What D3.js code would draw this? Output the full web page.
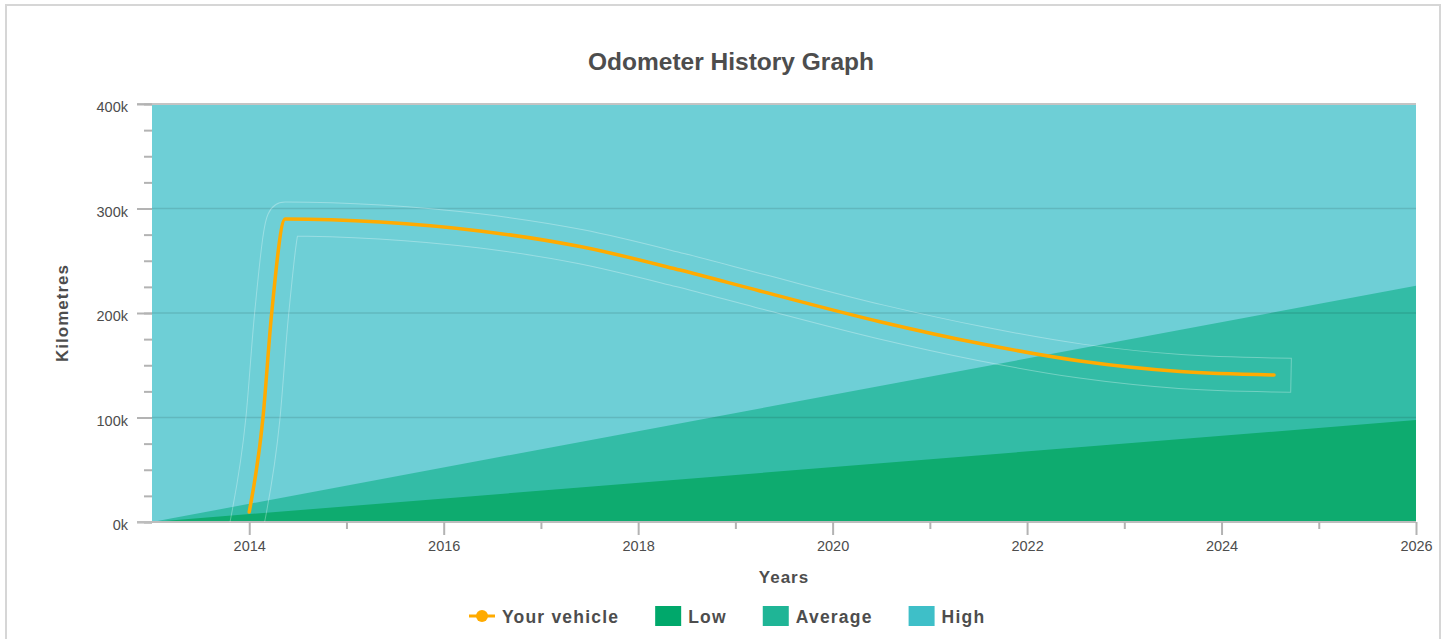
<!DOCTYPE html>
<html><head><meta charset="utf-8">
<script src="https://cdn.jsdelivr.net/npm/d3@7"></script>
<style>
body{margin:0;background:#fff;}
text{font-family:"Liberation Sans",Arial,Helvetica,sans-serif;}
</style>
</head><body>
<svg id="chart" width="1447" height="639"></svg>
<script>
// ---------- data ----------
const bandYears = [2013, 2026];
const lowKm = [0, 97500];
const averageKm = [0, 226000];
const highKm = [400000, 400000];

const vehicleYears = [2014.0, 2014.14, 2014.23, 2014.37, 2015.345, 2016.373, 2017.402, 2018.43, 2019.253, 2020.487, 2021.515, 2022.544, 2023.573, 2024.54];
const vehicleKm    = [9600, 98600, 199000, 290000, 287100, 278500, 263600, 241100, 221100, 191700, 170800, 154100, 144000, 140700];

const yTickValues = [0, 100000, 200000, 300000, 400000];
const yMinorTickValues = d3.range(0, 400001, 25000);
const xTickYears = d3.range(2014, 2027, 1);
const xLabelYears = [2014, 2016, 2018, 2020, 2022, 2024, 2026];

const legendItems = ["Your vehicle", "Low", "Average", "High"];
const legendColors = ["#ffab00", "#00a86b", "#1fb596", "#3ebfc8"];

// ---------- layout ----------
const svg = d3.select("#chart");
const W = 1447, H = 639;
const plot = {left: 152, right: 1416, top: 104, bottom: 522};
const textColor = "#4d4d4d";

svg.append("rect").attr("x", 6).attr("y", 5).attr("width", 1434).attr("height", 660)
  .attr("fill", "#fff").attr("stroke", "#d6d6d6").attr("stroke-width", 2);

const x = d3.scaleLinear().domain([2013, 2026]).range([plot.left, plot.right]);
const y = d3.scaleLinear().domain([0, 400000]).range([plot.bottom, plot.top]);

const defs = svg.append("defs");
defs.append("clipPath").attr("id", "plotClip").append("rect")
  .attr("x", plot.left).attr("y", plot.top)
  .attr("width", plot.right - plot.left).attr("height", plot.bottom - plot.top);

// ---------- areas ----------
const area = d3.area().x((d, i) => x(bandYears[i])).y0(y(0)).y1(d => y(d));
const gAreas = svg.append("g").attr("clip-path", "url(#plotClip)");
gAreas.append("path").datum(highKm).attr("d", area).attr("fill", "#6ecfd6");
gAreas.append("path").datum(averageKm).attr("d", area).attr("fill", "#33bca6");
gAreas.append("path").datum(lowKm).attr("d", area).attr("fill", "#0eab6f");

// ---------- grid ----------
const gGrid = svg.append("g");
yTickValues.filter(v => v > 0 && v < 400000).forEach(v => {
  gGrid.append("line").attr("x1", plot.left).attr("x2", plot.right)
    .attr("y1", y(v)).attr("y2", y(v))
    .attr("stroke", "rgba(0,0,0,0.11)").attr("stroke-width", 1.3);
});
gGrid.append("line").attr("x1", 137).attr("x2", plot.right)
  .attr("y1", y(400000)).attr("y2", y(400000))
  .attr("stroke", "#c4c4c4").attr("stroke-width", 2);

// ---------- y axis ----------
const yMinor = d3.axisLeft(y).tickValues(yMinorTickValues).tickSize(8).tickFormat("");
const gYMinor = svg.append("g").attr("transform", `translate(${plot.left},0)`).call(yMinor);
gYMinor.select(".domain").remove();
gYMinor.selectAll("line").attr("stroke", "#b3b3b3").attr("stroke-width", 2);

const yMajor = d3.axisLeft(y).tickValues(yTickValues).tickSize(15).tickPadding(9)
  .tickFormat(d => (d / 1000) + "k");
const gY = svg.append("g").attr("transform", `translate(${plot.left},0)`).call(yMajor);
gY.select(".domain").remove();
gY.selectAll("line").attr("stroke", "#b3b3b3").attr("stroke-width", 2);
gY.selectAll("text").attr("fill", textColor).attr("font-size", 14.5)
  .attr("font-family", "Liberation Sans, Arial, sans-serif").attr("dy", "0.55em");

// ---------- x axis ----------
const gX = svg.append("g").attr("transform", `translate(0,${plot.bottom})`);
gX.append("line").attr("x1", 137).attr("x2", plot.right).attr("y1", 0).attr("y2", 0)
  .attr("stroke", "#bdbdbd").attr("stroke-width", 2);
const xAxis = d3.axisBottom(x).tickValues(xTickYears)
  .tickSize(0).tickPadding(0).tickFormat(d => xLabelYears.includes(d) ? String(d) : "");
const gXA = gX.append("g").call(xAxis);
gXA.select(".domain").remove();
gXA.selectAll(".tick line")
  .attr("y2", d => xLabelYears.includes(d) ? 13 : 7)
  .attr("stroke", "#b3b3b3").attr("stroke-width", 2);
gXA.selectAll("text").attr("fill", textColor).attr("font-size", 14.5)
  .attr("font-family", "Liberation Sans, Arial, sans-serif").attr("y", 29).attr("dy", 0);

// ---------- vehicle line ----------
const vehicle = vehicleYears.map((yr, i) => [yr, vehicleKm[i]]);
const line = d3.line().x(d => x(d[0])).y(d => y(d[1])).curve(d3.curveMonotoneX);
const mask = defs.append("mask").attr("id", "haloMask");
mask.append("rect").attr("x", 0).attr("y", 0).attr("width", W).attr("height", H).attr("fill", "black");
mask.append("path").datum(vehicle).attr("d", line).attr("fill", "none")
  .attr("stroke", "white").attr("stroke-width", 35).attr("stroke-linejoin", "round").attr("stroke-linecap", "square");
mask.append("path").datum(vehicle).attr("d", line).attr("fill", "none")
  .attr("stroke", "black").attr("stroke-width", 33).attr("stroke-linejoin", "round").attr("stroke-linecap", "square");

const gLine = svg.append("g").attr("clip-path", "url(#plotClip)");
gLine.append("rect").attr("x", 0).attr("y", 0).attr("width", W).attr("height", H)
  .attr("fill", "white").attr("opacity", 0.3).attr("mask", "url(#haloMask)");
gLine.append("path").datum(vehicle).attr("d", line).attr("fill", "none")
  .attr("stroke", "#ffab00").attr("stroke-width", 3.5)
  .attr("stroke-linejoin", "round").attr("stroke-linecap", "round");

// ---------- titles ----------
svg.append("text").attr("x", 731).attr("y", 70).attr("text-anchor", "middle")
  .attr("font-size", 24.5).attr("font-weight", "bold").attr("fill", textColor)
  .text("Odometer History Graph");
svg.append("text").attr("x", 784).attr("y", 583).attr("text-anchor", "middle")
  .attr("font-size", 17).attr("font-weight", "bold").attr("letter-spacing", 1).attr("fill", textColor)
  .text("Years");
svg.append("text").attr("transform", `translate(68,${(plot.top + plot.bottom) / 2}) rotate(-90)`)
  .attr("text-anchor", "middle").attr("font-size", 17).attr("font-weight", "bold")
  .attr("letter-spacing", 1).attr("fill", textColor).text("Kilometres");

// ---------- legend ----------
const gLeg = svg.append("g").attr("transform", "translate(469,0)");
let cx = 0;
const itemGap = 36, legY = 616;
legendItems.forEach((name, i) => {
  const g = gLeg.append("g").attr("transform", `translate(${cx},0)`);
  if (i === 0) {
    g.append("line").attr("x1", 0).attr("x2", 26).attr("y1", legY).attr("y2", legY)
      .attr("stroke", legendColors[i]).attr("stroke-width", 3);
    g.append("circle").attr("cx", 13).attr("cy", legY).attr("r", 6).attr("fill", legendColors[i]);
  } else {
    g.append("rect").attr("x", 0).attr("y", legY - 10).attr("width", 26).attr("height", 20)
      .attr("fill", legendColors[i]);
  }
  const t = g.append("text").attr("x", 33).attr("y", legY + 6.5)
    .attr("font-size", 17.5).attr("font-weight", "bold").attr("letter-spacing", 1.2)
    .attr("fill", textColor).text(name);
  const w = 33 + t.node().getComputedTextLength();
  cx += w + itemGap;
});
</script>
</body></html>
